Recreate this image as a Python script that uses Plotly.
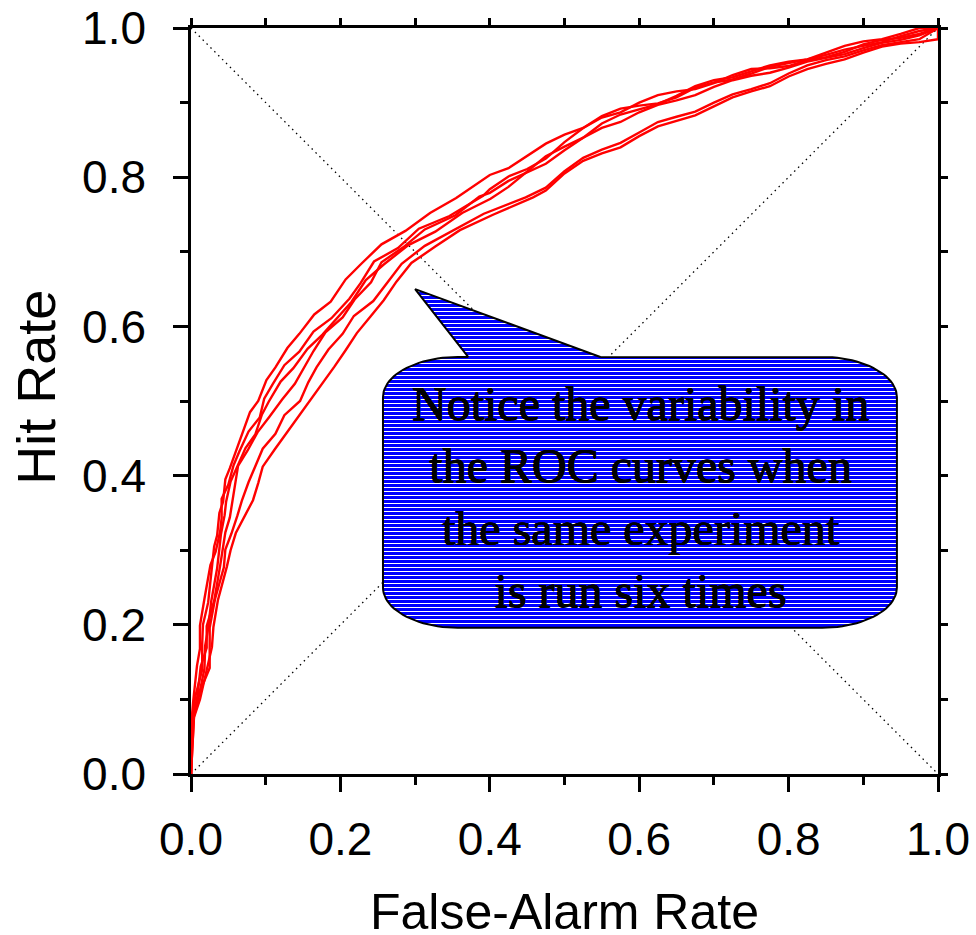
import numpy as np
import plotly.graph_objects as go

# ---------------- data ----------------
far_1 = [0, .001, .002, .006, .015, .015, .016, .023, .028, .031, .035, .038, .043, .046, .052, .063, .068, .079, .090, .101,
         .113, .129, .145, .165, .187, .207, .228, .255, .287, .320, .355, .40, .425, .45, .475, .50, .525, .55, .575, .60,
         .625, .65, .675, .70, .725, .75, .775, .80, .825, .85, .875, .90, .925, .95, .975, 1.0]
hit_1 = [0, .045, .08, .105, .14, .175, .20, .23, .275, .305, .32, .35, .365, .395, .41, .44, .455, .485, .50, .528,
         .545, .571, .59, .616, .633, .663, .684, .71, .728, .752, .772, .803, .812, .828, .845, .857, .866, .882, .892, .896,
         .899, .907, .920, .927, .931, .939, .948, .953, .958, .967, .976, .982, .985, .992, 1.0, 1.0]

far_2 = [0, 0, .001, .003, .008, .012, .012, .018, .026, .033, .039, .041, .041, .050, .057, .065, .077, .092, .098, .109,
         .125, .145, .164, .188, .212, .227, .245, .277, .305, .346, .391, .40, .425, .45, .475, .50, .525, .55, .575, .60,
         .625, .65, .675, .70, .725, .75, .775, .80, .825, .85, .875, .90, .925, .95, .975, 1.0]
hit_2 = [0, .038, .074, .098, .145, .168, .199, .235, .28, .298, .325, .343, .369, .388, .414, .433, .459, .478, .503, .522,
         .548, .566, .593, .611, .637, .658, .687, .705, .731, .748, .775, .784, .801, .811, .825, .847, .866, .880, .887, .900,
         .910, .915, .918, .926, .937, .945, .946, .949, .957, .961, .968, .978, .984, .987, .992, 1.0]

far_3 = [0, .002, .004, .010, .018, .019, .023, .027, .035, .038, .040, .045, .047, .053, .061, .073, .086, .095, .104, .120,
         .137, .156, .176, .199, .215, .234, .258, .291, .327, .363, .401, .425, .45, .475, .50, .525, .55, .575, .60, .625,
         .65, .675, .70, .725, .75, .775, .80, .825, .85, .875, .90, .925, .95, .975, 1.0]
hit_3 = [0, .042, .078, .102, .141, .172, .195, .231, .276, .302, .321, .347, .365, .392, .41, .437, .455, .482, .499, .526,
         .544, .57, .589, .615, .633, .662, .683, .709, .727, .752, .771, .787, .808, .828, .841, .853, .872, .884, .891, .898,
         .909, .922, .930, .934, .942, .950, .955, .958, .964, .971, .976, .981, .989, .996, 1.0]

far_4 = [0, 0, .003, .008, .013, .021, .021, .031, .039, .042, .046, .052, .056, .059, .063, .076, .089, .105, .122, .139,
         .153, .164, .180, .203, .219, .241, .255, .284, .313, .354, .386, .40, .425, .45, .475, .50, .525, .55, .575, .60,
         .625, .65, .675, .70, .725, .75, .775, .80, .825, .85, .875, .90, .925, .95, .975, 1.0]
hit_4 = [0, .041, .077, .099, .144, .169, .198, .232, .279, .299, .324, .344, .368, .389, .413, .434, .458, .479, .502, .523,
         .547, .567, .592, .612, .636, .659, .686, .706, .73, .749, .774, .779, .795, .806, .818, .836, .853, .866, .874, .887,
         .897, .903, .910, .921, .930, .936, .940, .947, .955, .960, .965, .973, .980, .984, .990, 1.0]

far_5 = [0, .001, .003, .008, .025, .025, .025, .032, .044, .046, .054, .062, .068, .077, .085, .096, .113, .125, .146, .157,
         .168, .184, .203, .218, .244, .265, .282, .313, .349, .392, .448, .475, .50, .525, .55, .575, .60, .625, .65, .675,
         .70, .725, .75, .775, .80, .825, .85, .875, .90, .925, .95, .975, 1.0]
hit_5 = [0, .039, .075, .101, .142, .171, .196, .234, .277, .301, .322, .346, .366, .391, .411, .436, .456, .481, .50, .525,
         .545, .569, .59, .614, .634, .661, .684, .708, .728, .751, .773, .786, .808, .826, .837, .846, .860, .874, .881, .888,
         .900, .911, .918, .926, .939, .950, .957, .962, .970, .977, .981, .985, 1.0]

far_6 = [0, .002, .004, .012, .022, .028, .030, .036, .048, .053, .060, .072, .083, .090, .096, .112, .128, .144, .160, .176,
         .192, .207, .222, .240, .258, .275, .295, .327, .360, .405, .458, .475, .50, .525, .55, .575, .60, .625, .65, .675,
         .70, .725, .75, .775, .80, .825, .85, .875, .90, .925, .95, .975, 1.0, 1.0]
hit_6 = [0, .04, .076, .10, .143, .17, .197, .233, .278, .30, .323, .345, .367, .39, .412, .435, .457, .48, .501, .524,
         .546, .568, .591, .613, .635, .66, .685, .707, .729, .75, .773, .782, .805, .822, .832, .840, .855, .868, .875, .883,
         .895, .907, .915, .922, .935, .945, .952, .958, .967, .975, .979, .981, .985, 1.0]

runs = [(far_1, hit_1), (far_2, hit_2), (far_3, hit_3), (far_4, hit_4), (far_5, hit_5), (far_6, hit_6)]

tick_vals = [0.0, 0.2, 0.4, 0.6, 0.8, 1.0]
tick_text = ["0.0", "0.2", "0.4", "0.6", "0.8", "1.0"]
diag_ends = [0.0, 1.0]

callout_text = "Notice the variability in<br>the ROC curves when<br>the same experiment<br>is run six times"

# ---------------- figure ----------------
SANS = "Liberation Sans, Arial, sans-serif"
SERIF = "Liberation Serif, Times New Roman, serif"
FS = 46

W, H = 976, 935
ML, MR, MT, MB = 191, 38, 28, 161
PLOT_H = H - MT - MB

fig = go.Figure()

# dotted diagonals
for yy in (diag_ends, diag_ends[::-1]):
    fig.add_trace(go.Scatter(x=diag_ends, y=yy, mode="lines",
                             line=dict(color="black", width=1.3, dash="1.5px,4px"), hoverinfo="skip"))

for fx, hy in runs:
    fig.add_trace(go.Scatter(x=fx, y=hy, mode="lines",
                             line=dict(color="#ff0000", width=2.4), hoverinfo="skip"))

# ---------------- speech-bubble callout (geometry in axis units) ----------------
bx0, bx1, by0, by1 = 0.257, 0.945, 0.196, 0.559
rx, ry = 0.100, 0.054
tip = (0.300, 0.650)
base_l, base_r = 0.371, 0.548


def arc(cx, cy, a0, a1, n=24):
    t = np.radians(np.linspace(a0, a1, n))
    return list(cx + rx * np.cos(t)), list(cy + ry * np.sin(t))


px, py = [base_r], [by1]
for (cx, cy, a0, a1) in [(bx1 - rx, by1 - ry, 90, 0), (bx1 - rx, by0 + ry, 0, -90),
                         (bx0 + rx, by0 + ry, -90, -180), (bx0 + rx, by1 - ry, 180, 90)]:
    ax_, ay_ = arc(cx, cy, a0, a1)
    px += ax_
    py += ay_
px += [base_l, tip[0], base_r]
py += [by1, tip[1], by1]

# solid blue body
fig.add_trace(go.Scatter(x=px, y=py, mode="lines", fill="toself", fillcolor="#0000ff",
                         line=dict(color="#0000ff", width=0), hoverinfo="skip"))


def row_extent(y):
    """x-extents of the bubble at height y (axis units)."""
    segs = []
    if by0 < y < by1:
        if y > by1 - ry:
            d = (y - (by1 - ry)) / ry
        elif y < by0 + ry:
            d = ((by0 + ry) - y) / ry
        else:
            d = 0.0
        dx = rx * (1 - np.sqrt(max(0.0, 1 - d * d)))
        segs.append((bx0 + dx, bx1 - dx))
    if by1 <= y < tip[1]:
        t = (y - by1) / (tip[1] - by1)
        segs.append((base_l + (tip[0] - base_l) * t, base_r + (tip[0] - base_r) * t))
    return segs


# white horizontal hatching, aligned to whole pixels (period 4 px)
sx, sy = [], []
top_px = MT + (1 - tip[1]) * PLOT_H
bot_px = MT + (1 - by0) * PLOT_H
row = np.floor(top_px) + 2.5
while row < bot_px:
    yv = 1 - (row - MT) / PLOT_H
    for a, b in row_extent(yv):
        sx += [a, b, None]
        sy += [yv, yv, None]
    row += 4
fig.add_trace(go.Scatter(x=sx, y=sy, mode="lines", line=dict(color="white", width=1.0),
                         hoverinfo="skip", connectgaps=False))

# outline
fig.add_trace(go.Scatter(x=px, y=py, mode="lines", line=dict(color="black", width=2), hoverinfo="skip"))

# dummy trace for mirrored top/right axes
fig.add_trace(go.Scatter(x=[], y=[], xaxis="x2", yaxis="y2", hoverinfo="skip"))

# callout text (slightly thickened strokes so it reads solid black over the hatching)
fig.add_annotation(x=0.602, y=0.371, xref="x", yref="y", text=callout_text,
                   showarrow=False,
                   font=dict(family=SERIF, size=48, color="black",
                             shadow="0.5px 0 0 #000, -0.5px 0 0 #000, 0 0.5px 0 #000"),
                   align="center", xanchor="center", yanchor="middle")

fig.add_annotation(x=0.5, y=-0.185, xref="paper", yref="paper", text="False-Alarm Rate",
                   showarrow=False, font=dict(family=SANS, size=50, color="black"),
                   xanchor="center", yanchor="middle")
fig.add_annotation(x=-0.2075, y=0.519, xref="paper", yref="paper", text="Hit Rate",
                   textangle=-90, showarrow=False, font=dict(family=SANS, size=54, color="black"),
                   xanchor="center", yanchor="middle")

axis_common = dict(range=[0, 1], showgrid=False, zeroline=False, showline=True,
                   linecolor="black", linewidth=2.5, ticks="outside", tickcolor="black",
                   tickwidth=2.5, fixedrange=True, automargin=False)

fig.update_layout(
    width=W, height=H,
    margin=dict(l=ML, r=MR, t=MT, b=MB, autoexpand=False),
    paper_bgcolor="white", plot_bgcolor="white",
    showlegend=False,
    xaxis=dict(**axis_common, tickvals=tick_vals, ticktext=tick_text, ticklen=15,
               tickfont=dict(family=SANS, size=FS, color="black"), ticklabelstandoff=8,
               minor=dict(dtick=0.1, tick0=0, ticklen=8, tickwidth=2.5, tickcolor="black", ticks="outside")),
    yaxis=dict(**axis_common, tickvals=tick_vals, ticktext=tick_text, ticklen=15,
               tickfont=dict(family=SANS, size=FS, color="black"), ticklabelstandoff=18,
               minor=dict(dtick=0.1, tick0=0, ticklen=8, tickwidth=2.5, tickcolor="black", ticks="outside")),
    xaxis2=dict(**axis_common, overlaying="x", side="top", dtick=0.1, tick0=0, ticklen=7,
                showticklabels=False),
    yaxis2=dict(**axis_common, overlaying="y", side="right", dtick=0.1, tick0=0, ticklen=7,
                showticklabels=False),
)

fig.write_html("out.html")
